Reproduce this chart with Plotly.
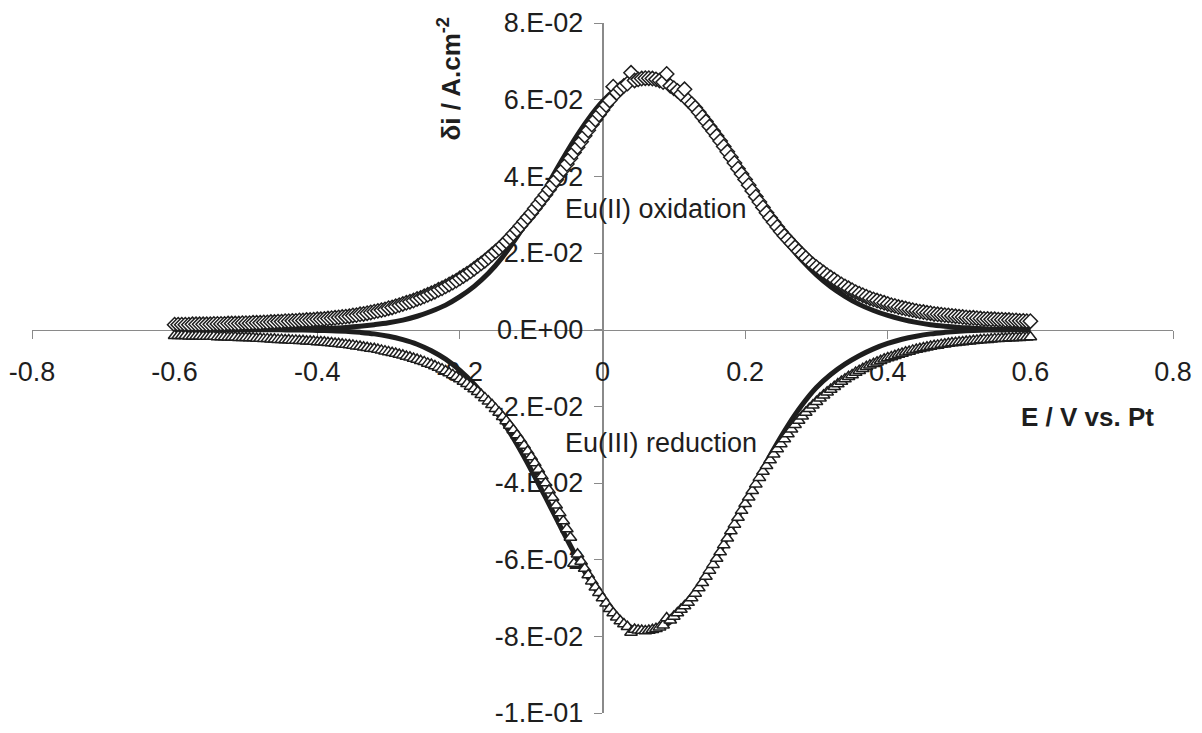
import plotly.graph_objects as go

# potential grid of the measured points (V vs. Pt)
E_meas = [
    -0.600, -0.595, -0.590, -0.585, -0.580, -0.575, -0.570, -0.565, -0.560, -0.555,
    -0.550, -0.545, -0.540, -0.535, -0.530, -0.525, -0.520, -0.515, -0.510, -0.505,
    -0.500, -0.495, -0.490, -0.485, -0.480, -0.475, -0.470, -0.465, -0.460, -0.455,
    -0.450, -0.445, -0.440, -0.435, -0.430, -0.425, -0.420, -0.415, -0.410, -0.405,
    -0.400, -0.395, -0.390, -0.385, -0.380, -0.375, -0.370, -0.365, -0.360, -0.355,
    -0.350, -0.345, -0.340, -0.335, -0.330, -0.325, -0.320, -0.315, -0.310, -0.305,
    -0.300, -0.295, -0.290, -0.285, -0.280, -0.275, -0.270, -0.265, -0.260, -0.255,
    -0.250, -0.245, -0.240, -0.235, -0.230, -0.225, -0.220, -0.215, -0.210, -0.205,
    -0.200, -0.195, -0.190, -0.185, -0.180, -0.175, -0.170, -0.165, -0.160, -0.155,
    -0.150, -0.145, -0.140, -0.135, -0.130, -0.125, -0.120, -0.115, -0.110, -0.105,
    -0.100, -0.095, -0.090, -0.085, -0.080, -0.075, -0.070, -0.065, -0.060, -0.055,
    -0.050, -0.045, -0.040, -0.035, -0.030, -0.025, -0.020, -0.015, -0.010, -0.005,
    0.000, 0.005, 0.010, 0.015, 0.020, 0.025, 0.030, 0.035, 0.040, 0.045,
    0.050, 0.055, 0.060, 0.065, 0.070, 0.075, 0.080, 0.085, 0.090, 0.095,
    0.100, 0.105, 0.110, 0.115, 0.120, 0.125, 0.130, 0.135, 0.140, 0.145,
    0.150, 0.155, 0.160, 0.165, 0.170, 0.175, 0.180, 0.185, 0.190, 0.195,
    0.200, 0.205, 0.210, 0.215, 0.220, 0.225, 0.230, 0.235, 0.240, 0.245,
    0.250, 0.255, 0.260, 0.265, 0.270, 0.275, 0.280, 0.285, 0.290, 0.295,
    0.300, 0.305, 0.310, 0.315, 0.320, 0.325, 0.330, 0.335, 0.340, 0.345,
    0.350, 0.355, 0.360, 0.365, 0.370, 0.375, 0.380, 0.385, 0.390, 0.395,
    0.400, 0.405, 0.410, 0.415, 0.420, 0.425, 0.430, 0.435, 0.440, 0.445,
    0.450, 0.455, 0.460, 0.465, 0.470, 0.475, 0.480, 0.485, 0.490, 0.495,
    0.500, 0.505, 0.510, 0.515, 0.520, 0.525, 0.530, 0.535, 0.540, 0.545,
    0.550, 0.555, 0.560, 0.565, 0.570, 0.575, 0.580, 0.585, 0.590, 0.595,
    0.600]

# Eu(II) oxidation, measured (diamonds), A/cm2
di_ox = [
    0.0013, 0.0013, 0.0013, 0.0013, 0.0013, 0.0014, 0.0014, 0.0014, 0.0014, 0.0014,
    0.0014, 0.0015, 0.0015, 0.0015, 0.0015, 0.0016, 0.0016, 0.0016, 0.0016, 0.0017,
    0.0017, 0.0017, 0.0018, 0.0018, 0.0018, 0.0019, 0.0019, 0.0020, 0.0020, 0.0021,
    0.0021, 0.0022, 0.0022, 0.0023, 0.0023, 0.0024, 0.0024, 0.0025, 0.0025, 0.0026,
    0.0027, 0.0027, 0.0028, 0.0029, 0.0030, 0.0031, 0.0032, 0.0033, 0.0034, 0.0035,
    0.0037, 0.0038, 0.0040, 0.0041, 0.0043, 0.0045, 0.0047, 0.0049, 0.0051, 0.0053,
    0.0056, 0.0058, 0.0061, 0.0064, 0.0067, 0.0070, 0.0073, 0.0076, 0.0080, 0.0083,
    0.0087, 0.0091, 0.0095, 0.0099, 0.0104, 0.0108, 0.0113, 0.0118, 0.0123, 0.0128,
    0.0134, 0.0140, 0.0146, 0.0152, 0.0159, 0.0166, 0.0173, 0.0180, 0.0188, 0.0196,
    0.0204, 0.0212, 0.0221, 0.0230, 0.0240, 0.0250, 0.0260, 0.0271, 0.0282, 0.0293,
    0.0304, 0.0316, 0.0328, 0.0340, 0.0352, 0.0365, 0.0378, 0.0391, 0.0405, 0.0418,
    0.0432, 0.0447, 0.0462, 0.0476, 0.0490, 0.0506, 0.0520, 0.0535, 0.0548, 0.0561,
    0.0573, 0.0586, 0.0598, 0.0634, 0.0618, 0.0628, 0.0636, 0.0642, 0.0670, 0.0650,
    0.0653, 0.0655, 0.0656, 0.0656, 0.0655, 0.0653, 0.0650, 0.0646, 0.0667, 0.0636,
    0.0630, 0.0623, 0.0615, 0.0627, 0.0598, 0.0589, 0.0579, 0.0567, 0.0555, 0.0543,
    0.0530, 0.0518, 0.0505, 0.0492, 0.0478, 0.0464, 0.0450, 0.0435, 0.0420, 0.0406,
    0.0392, 0.0377, 0.0362, 0.0347, 0.0333, 0.0319, 0.0305, 0.0292, 0.0280, 0.0268,
    0.0256, 0.0245, 0.0235, 0.0225, 0.0215, 0.0205, 0.0196, 0.0187, 0.0178, 0.0170,
    0.0163, 0.0156, 0.0149, 0.0142, 0.0136, 0.0130, 0.0124, 0.0118, 0.0113, 0.0108,
    0.0103, 0.0098, 0.0094, 0.0090, 0.0086, 0.0082, 0.0079, 0.0076, 0.0073, 0.0070,
    0.0067, 0.0064, 0.0062, 0.0059, 0.0057, 0.0055, 0.0053, 0.0051, 0.0049, 0.0047,
    0.0046, 0.0044, 0.0043, 0.0041, 0.0040, 0.0039, 0.0038, 0.0037, 0.0036, 0.0035,
    0.0034, 0.0033, 0.0032, 0.0031, 0.0031, 0.0030, 0.0029, 0.0028, 0.0028, 0.0027,
    0.0027, 0.0026, 0.0026, 0.0025, 0.0025, 0.0024, 0.0024, 0.0023, 0.0023, 0.0022,
    0.0022]

# Eu(III) reduction, measured (triangles), A/cm2
di_red = [
    -0.0016, -0.0016, -0.0016, -0.0016, -0.0017, -0.0017, -0.0017, -0.0017, -0.0018, -0.0018,
    -0.0018, -0.0018, -0.0019, -0.0019, -0.0019, -0.0020, -0.0020, -0.0020, -0.0021, -0.0021,
    -0.0021, -0.0022, -0.0022, -0.0023, -0.0023, -0.0024, -0.0024, -0.0025, -0.0025, -0.0026,
    -0.0026, -0.0027, -0.0027, -0.0028, -0.0028, -0.0029, -0.0029, -0.0030, -0.0030, -0.0031,
    -0.0032, -0.0032, -0.0033, -0.0034, -0.0035, -0.0036, -0.0037, -0.0038, -0.0039, -0.0040,
    -0.0041, -0.0043, -0.0044, -0.0046, -0.0047, -0.0049, -0.0050, -0.0052, -0.0054, -0.0056,
    -0.0058, -0.0060, -0.0062, -0.0065, -0.0067, -0.0070, -0.0072, -0.0075, -0.0078, -0.0081,
    -0.0084, -0.0088, -0.0091, -0.0095, -0.0099, -0.0103, -0.0108, -0.0113, -0.0118, -0.0123,
    -0.0129, -0.0135, -0.0141, -0.0148, -0.0155, -0.0162, -0.0170, -0.0178, -0.0187, -0.0196,
    -0.0206, -0.0216, -0.0227, -0.0238, -0.0250, -0.0262, -0.0275, -0.0288, -0.0302, -0.0317,
    -0.0332, -0.0348, -0.0365, -0.0382, -0.0400, -0.0419, -0.0438, -0.0458, -0.0478, -0.0499,
    -0.0520, -0.0542, -0.0610, -0.0586, -0.0605, -0.0623, -0.0640, -0.0656, -0.0672, -0.0686,
    -0.0700, -0.0714, -0.0728, -0.0739, -0.0750, -0.0760, -0.0768, -0.0775, -0.0790, -0.0782,
    -0.0784, -0.0785, -0.0786, -0.0785, -0.0783, -0.0780, -0.0776, -0.0771, -0.0752, -0.0758,
    -0.0748, -0.0739, -0.0730, -0.0721, -0.0712, -0.0700, -0.0688, -0.0674, -0.0660, -0.0644,
    -0.0628, -0.0613, -0.0597, -0.0580, -0.0562, -0.0544, -0.0525, -0.0508, -0.0490, -0.0472,
    -0.0454, -0.0437, -0.0420, -0.0403, -0.0386, -0.0370, -0.0355, -0.0340, -0.0325, -0.0311,
    -0.0298, -0.0285, -0.0272, -0.0260, -0.0248, -0.0237, -0.0226, -0.0216, -0.0206, -0.0197,
    -0.0188, -0.0179, -0.0171, -0.0163, -0.0156, -0.0149, -0.0142, -0.0135, -0.0129, -0.0123,
    -0.0118, -0.0112, -0.0107, -0.0102, -0.0097, -0.0093, -0.0089, -0.0085, -0.0081, -0.0077,
    -0.0074, -0.0071, -0.0068, -0.0065, -0.0062, -0.0059, -0.0057, -0.0054, -0.0052, -0.0050,
    -0.0048, -0.0046, -0.0044, -0.0042, -0.0041, -0.0039, -0.0038, -0.0036, -0.0035, -0.0034,
    -0.0033, -0.0032, -0.0031, -0.0030, -0.0029, -0.0028, -0.0027, -0.0026, -0.0026, -0.0025,
    -0.0024, -0.0024, -0.0023, -0.0023, -0.0022, -0.0022, -0.0021, -0.0021, -0.0020, -0.0020,
    -0.0019]

# fitted curves
E_fit = [-0.60, -0.58, -0.56, -0.54, -0.52, -0.50, -0.48, -0.46, -0.44, -0.42,
         -0.40, -0.38, -0.36, -0.34, -0.32, -0.30, -0.28, -0.26, -0.24, -0.22,
         -0.20, -0.18, -0.16, -0.14, -0.12, -0.10, -0.08, -0.06, -0.04, -0.02,
         0.00, 0.02, 0.04, 0.06, 0.08, 0.10, 0.12, 0.14, 0.16, 0.18,
         0.20, 0.22, 0.24, 0.26, 0.28, 0.30, 0.32, 0.34, 0.36, 0.38,
         0.40, 0.42, 0.44, 0.46, 0.48, 0.50, 0.52, 0.54, 0.56, 0.58, 0.60]

fit_ox = [0.0000, 0.0000, 0.0000, 0.0000, 0.0000, 0.0000, 0.0001, 0.0001, 0.0001, 0.0002,
          0.0003, 0.0004, 0.0006, 0.0009, 0.0013, 0.0018, 0.0025, 0.0035, 0.0048, 0.0064,
          0.0086, 0.0113, 0.0147, 0.0190, 0.0242, 0.0302, 0.0367, 0.0432, 0.0494, 0.0549,
          0.0595, 0.0629, 0.0652, 0.0660, 0.0654, 0.0634, 0.0601, 0.0557, 0.0505, 0.0448,
          0.0388, 0.0329, 0.0274, 0.0224, 0.0180, 0.0143, 0.0112, 0.0087, 0.0066, 0.0050,
          0.0037, 0.0027, 0.0019, 0.0013, 0.0009, 0.0006, 0.0004, 0.0002, 0.0001, 0.0001, 0.0000]

fit_red = [0.0000, 0.0000, 0.0000, 0.0000, 0.0000, 0.0000, -0.0000, -0.0000, -0.0001, -0.0001,
           -0.0002, -0.0003, -0.0004, -0.0007, -0.0011, -0.0017, -0.0026, -0.0038, -0.0055, -0.0077,
           -0.0106, -0.0142, -0.0187, -0.0239, -0.0299, -0.0366, -0.0437, -0.0510, -0.0581, -0.0647,
           -0.0703, -0.0748, -0.0776, -0.0787, -0.0780, -0.0755, -0.0713, -0.0659, -0.0595, -0.0524,
           -0.0451, -0.0380, -0.0312, -0.0250, -0.0196, -0.0151, -0.0117, -0.0090, -0.0068, -0.0050,
           -0.0036, -0.0025, -0.0017, -0.0011, -0.0007, -0.0004, -0.0002, -0.0001, -0.0001, -0.0000, 0.0000]

x_ticks = [-0.8, -0.6, -0.4, -0.2, 0.0, 0.2, 0.4, 0.6, 0.8]
x_labels = ["-0.8", "-0.6", "-0.4", "-0.2", "0", "0.2", "0.4", "0.6", "0.8"]
y_ticks = [-0.10, -0.08, -0.06, -0.04, -0.02, 0.0, 0.02, 0.04, 0.06, 0.08]
y_labels = ["-1.E-01", "-8.E-02", "-6.E-02", "-4.E-02", "-2.E-02",
            "0.E+00", "2.E-02", "4.E-02", "6.E-02", "8.E-02"]

FONT = "Liberation Sans, Arial, sans-serif"
INK = "#1e1e1e"
AXIS = "#8a8a8a"

fig = go.Figure()

# fit lines underneath, measured points on top
for y in (fit_ox, fit_red):
    fig.add_trace(go.Scatter(x=E_fit, y=y, mode="lines", line_shape="spline",
                             line=dict(color=INK, width=5), hoverinfo="skip"))

fig.add_trace(go.Scatter(x=E_meas, y=di_ox, mode="markers",
                         marker=dict(symbol="diamond", size=11, color="white",
                                     line=dict(color=INK, width=1.5))))
fig.add_trace(go.Scatter(x=E_meas, y=di_red, mode="markers",
                         marker=dict(symbol="triangle-up", size=11, color="white",
                                     line=dict(color=INK, width=1.5))))

fig.update_xaxes(
    range=[-0.8, 0.8], anchor="free", position=0.1 / 0.18, automargin=False,
    tickvals=x_ticks, ticktext=x_labels, ticks="outside", ticklen=8,
    ticklabelstandoff=10,
    tickcolor=AXIS, showline=True, linecolor=AXIS, linewidth=1,
    showgrid=False, zeroline=False, layer="below traces",
    tickfont=dict(family=FONT, size=27, color=INK)
)
fig.update_yaxes(
    range=[-0.1, 0.08], anchor="free", position=0.5, automargin=False,
    tickvals=y_ticks, ticktext=y_labels, ticks="outside", ticklen=8,
    ticklabelstandoff=5,
    tickcolor=AXIS, showline=True, linecolor=AXIS, linewidth=1.5,
    showgrid=False, zeroline=False, layer="below traces",
    tickfont=dict(family=FONT, size=27, color=INK)
)

fig.add_annotation(x=-0.055, y=0.0316, xref="x", yref="y", text="Eu(II) oxidation",
                   showarrow=False, xanchor="left", yanchor="middle",
                   font=dict(family=FONT, size=27, color=INK))
fig.add_annotation(x=-0.055, y=-0.0295, xref="x", yref="y", text="Eu(III) reduction",
                   showarrow=False, xanchor="left", yanchor="middle",
                   font=dict(family=FONT, size=27, color=INK))
fig.add_annotation(x=0.366, y=0.919, xref="paper", yref="paper",
                   text="<b>δi / A.cm<sup>-2</sup></b>", textangle=-90,
                   showarrow=False, xanchor="center", yanchor="middle",
                   font=dict(family=FONT, size=26, color=INK))
fig.add_annotation(x=0.9255, y=0.429, xref="paper", yref="paper",
                   text="<b>E / V vs. Pt</b>",
                   showarrow=False, xanchor="center", yanchor="middle",
                   font=dict(family=FONT, size=26, color=INK))

fig.update_layout(
    width=1202, height=733,
    margin=dict(l=32, r=29, t=23, b=20),
    paper_bgcolor="white", plot_bgcolor="white",
    showlegend=False
)

fig.write_html("out.html", config={"displayModeBar": False},
               post_script="document.body.style.margin = '0';")
